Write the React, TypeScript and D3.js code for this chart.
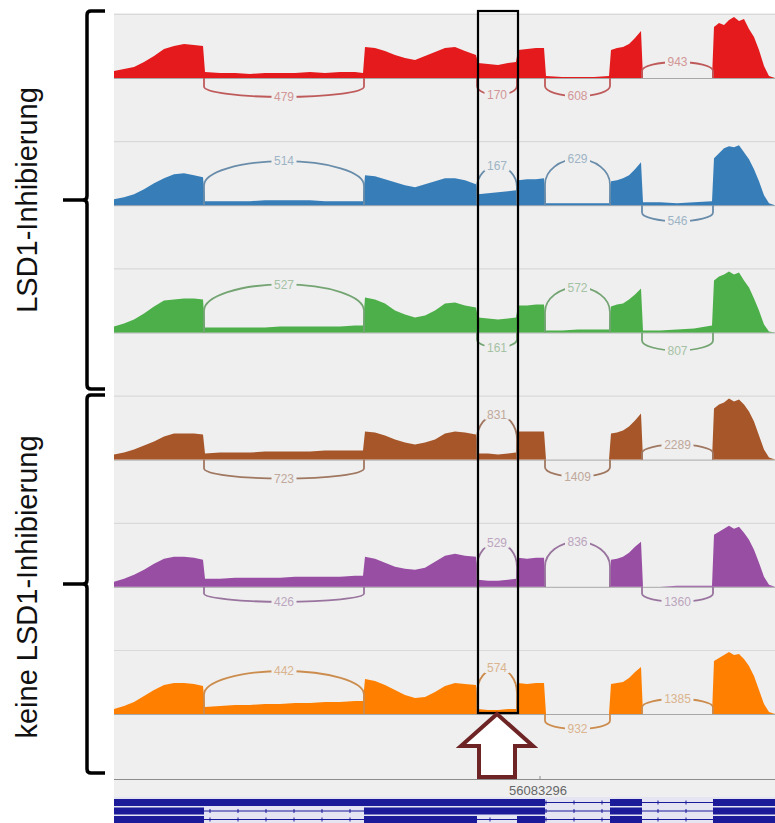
import React from 'react';
import * as d3 from 'd3';

// ---------- DATA ----------
const REGION_START = 56081166;
const REGION_END = 56084471;
const AXIS_TICKS = [56083296];

// sample positions (bp offset from REGION_START)
const samplePositions = [
  0, 50, 100, 150, 200, 250, 300, 350, 400, 445,
  455, 530, 605, 680, 755, 830, 905, 980, 1055, 1130, 1205, 1245,
  1255, 1305, 1355, 1405, 1455, 1505, 1555, 1605, 1655, 1705, 1755, 1810,
  1820, 1870, 1920, 1970, 2010,
  2020, 2065, 2110, 2150,
  2160, 2240, 2320, 2400, 2475,
  2485, 2515, 2545, 2575, 2605, 2635,
  2645, 2730, 2815, 2900, 2990,
  3000, 3025, 3050, 3075, 3100, 3125, 3150, 3175, 3200, 3225, 3250, 3275,
  3305,
];

const redCoverage = [
  7, 9, 11, 16, 22, 29, 32, 34, 33, 32,
  6, 5, 5, 4, 5, 5, 5, 6, 5, 6, 6, 5,
  31, 30, 27, 23, 20, 18, 22, 26, 30, 31, 27, 23,
  15, 14, 13, 15, 16,
  28, 29, 30, 30,
  2, 1, 1, 1, 2,
  28, 30, 31, 34, 40, 47,
  0, 0, 0, 0, 0,
  51, 55, 53, 58, 61, 57, 59, 49, 41, 28, 12, 2,
  0,
];
const blueCoverage = [
  6, 8, 11, 16, 22, 27, 31, 32, 30, 28,
  4, 4, 4, 4, 5, 5, 5, 5, 4, 4, 4, 4,
  30, 29, 26, 23, 20, 18, 21, 24, 27, 27, 25, 21,
  11, 12, 13, 14, 15,
  25, 26, 26, 27,
  2, 2, 2, 2, 2,
  24, 25, 27, 30, 36, 43,
  3, 3, 2, 3, 4,
  47, 52, 57, 59, 58, 60, 53, 46, 36, 24, 10, 2,
  0,
];
const greenCoverage = [
  6, 9, 13, 19, 26, 32, 33, 34, 34, 33,
  5, 5, 5, 5, 5, 6, 6, 6, 6, 6, 7, 7,
  35, 33, 29, 22, 18, 15, 17, 22, 29, 30, 27, 25,
  15, 14, 13, 14, 15,
  27, 27, 28, 28,
  2, 2, 3, 3, 3,
  26, 28, 29, 33, 38, 44,
  2, 2, 3, 4, 7,
  52, 56, 58, 61, 58, 60, 52, 45, 34, 22, 8, 1,
  0,
];
const brownCoverage = [
  5, 7, 10, 14, 18, 23, 26, 26, 26, 25,
  6, 7, 7, 7, 8, 8, 8, 8, 9, 9, 9, 9,
  28, 27, 24, 20, 17, 15, 17, 20, 26, 28, 27, 25,
  6, 6, 5, 6, 7,
  28, 28, 28, 28,
  0, 0, 0, 0, 0,
  26, 27, 29, 33, 39, 46,
  0, 0, 0, 0, 0,
  51, 55, 57, 61, 58, 60, 55, 48, 38, 24, 10, 2,
  0,
];
const purpleCoverage = [
  5, 8, 12, 17, 23, 28, 30, 30, 29, 27,
  8, 8, 9, 9, 9, 9, 10, 10, 10, 10, 11, 11,
  30, 28, 24, 20, 18, 17, 19, 25, 31, 33, 31, 30,
  7, 6, 6, 7, 8,
  29, 28, 29, 29,
  0, 0, 0, 0, 0,
  27, 28, 30, 34, 40, 45,
  0, 0, 1, 1, 1,
  52, 55, 58, 61, 58, 60, 54, 47, 37, 24, 10, 2,
  0,
];
const orangeCoverage = [
  5, 8, 12, 18, 24, 29, 31, 31, 30, 28,
  7, 8, 9, 9, 10, 10, 11, 11, 12, 12, 13, 13,
  35, 33, 29, 24, 19, 16, 17, 22, 28, 31, 30, 29,
  5, 4, 4, 5, 5,
  31, 30, 31, 31,
  0, 0, 0, 0, 0,
  30, 31, 32, 36, 42, 47,
  0, 0, 0, 0, 0,
  53, 56, 59, 62, 59, 60, 55, 48, 38, 24, 10, 2,
  0,
];

const trackColors = ['#e41a1c', '#377eb8', '#4daf4a', '#a65628', '#984ea3', '#ff7f00'];

// splice junctions (bp offsets)
const junctionStarts = [450, 1815, 2155, 2640];
const junctionEnds = [1250, 2015, 2480, 2995];
const redJunctions = [479, 170, 608, 943];
const blueJunctions = [514, 167, 629, 546];
const greenJunctions = [527, 161, 572, 807];
const brownJunctions = [723, 831, 1409, 2289];
const purpleJunctions = [426, 529, 836, 1360];
const orangeJunctions = [442, 574, 932, 1385];

// arc lift in px (positive = above, negative = below) – layout
const redArcLift = [-19, -17, -18, 16];
const blueArcLift = [44, 39, 46, -16];
const greenArcLift = [48, -15, 45, -18];
const brownArcLift = [-19, 45, -17, 15];
const purpleArcLift = [-15, 44, 45, -15];
const orangeArcLift = [43, 46, -15, 15];

const groupLabels = ['LSD1-Inhibierung', 'keine LSD1-Inhibierung'];

// transcripts in gene track (bp offsets)
const transcriptExons = [
  [[0, 2155], [2480, 2640], [2995, 3305]],
  [[0, 450], [1250, 2155], [2480, 2640], [2995, 3305]],
  [[0, 450], [1250, 1815], [2015, 2155], [2480, 2640], [2995, 3305]],
];

// ---------- CHART ----------
const coverages = [redCoverage, blueCoverage, greenCoverage, brownCoverage, purpleCoverage, orangeCoverage];
const junctionCounts = [redJunctions, blueJunctions, greenJunctions, brownJunctions, purpleJunctions, orangeJunctions];
const arcLifts = [redArcLift, blueArcLift, greenArcLift, brownArcLift, purpleArcLift, orangeArcLift];

const FONT = '"Liberation Sans", Arial, Helvetica, sans-serif';

export default function App() {
  const W = 775;
  const H = 823;
  const left = 114;
  const right = 775;
  const panelTop = 13;
  const firstTrackTop = 14;
  const trackStep = 127.2;
  const baselineOffset = 64;
  const axisY = 779;
  const geneTop = 797;
  const bg = '#efefef';

  const x = d3.scaleLinear().domain([REGION_START, REGION_END]).range([left, right]);
  const gx = (off: number) => x(REGION_START + off);

  const tracks = coverages.map((cov, i) => {
    const top = firstTrackTop + i * trackStep;
    const base = top + baselineOffset;
    const y = d3.scaleLinear().domain([0, 65]).range([base, base - 65]);
    const area = d3
      .area<number>()
      .x((_, j) => gx(samplePositions[j]))
      .y0(base)
      .y1((d) => y(d))
      .curve(d3.curveLinear);
    const color = trackColors[i];
    const arcColor = d3.interpolateRgb(color, '#999999')(0.5);
    const labelColor = d3.interpolateRgb(arcColor, bg)(0.4);
    const arcs = junctionStarts.map((s, k) => {
      const x1 = gx(s);
      const x2 = gx(junctionEnds[k]);
      const lift = arcLifts[i][k];
      const dir = lift > 0 ? -1 : 1;
      const h = Math.abs(lift);
      const h0 = h * 0.45;
      const ry = h - h0;
      const rx = (x2 - x1) / 2;
      const yStart = base + dir * h0;
      const sweep = lift > 0 ? 1 : 0;
      const path = `M${x1},${base} L${x1},${yStart} A${rx},${ry} 0 0,${sweep} ${x2},${yStart} L${x2},${base}`;
      const label = String(junctionCounts[i][k]);
      return { path, label, cx: (x1 + x2) / 2, cy: base + dir * h };
    });
    return { top, base, path: area(cov) || '', color, arcColor, labelColor, arcs };
  });

  const bracket = (yTop: number, yMid: number, yBot: number) =>
    `M105,${yTop} L91,${yTop} Q87,${yTop} 87,${yTop + 4} L87,${yMid - 4} Q87,${yMid} 83,${yMid} L63,${yMid} ` +
    `M83,${yMid} Q87,${yMid} 87,${yMid + 4} L87,${yBot - 4} Q87,${yBot} 91,${yBot} L105,${yBot}`;

  const rowCenters = [802.5, 811, 819.5];

  return (
    <svg
      width={W}
      height={H}
      style={{ position: 'absolute', left: 0, top: 0, background: '#ffffff' }}
      fontFamily={FONT}
    >
      {/* panel background */}
      <rect x={left} y={panelTop} width={right - left} height={geneTop - panelTop} fill={bg} />

      {tracks.map((t, i) => (
        <g key={'t' + i}>
          <line x1={left} x2={right} y1={t.top + 0.5} y2={t.top + 0.5} stroke="#d9d9d9" strokeWidth={1.2} />
          <line x1={left} x2={right} y1={t.base + 0.5} y2={t.base + 0.5} stroke="#a8a8a8" strokeWidth={1} />
          <path d={t.path} fill={t.color} />
          {t.arcs.map((a, k) => (
            <g key={'a' + k}>
              <path d={a.path} fill="none" stroke={t.arcColor} strokeWidth={1.8} />
              <rect
                x={a.cx - a.label.length * 3.5 - 2}
                y={a.cy - 5}
                width={a.label.length * 7 + 4}
                height={10}
                fill={bg}
              />
              <text
                x={a.cx}
                y={a.cy}
                dy="0.35em"
                textAnchor="middle"
                fontSize={12}
                fill={t.labelColor}
              >
                {a.label}
              </text>
            </g>
          ))}
        </g>
      ))}

      {/* axis */}
      <line x1={left} x2={right} y1={axisY + 0.5} y2={axisY + 0.5} stroke="#8c8c8c" strokeWidth={1} />
      {AXIS_TICKS.map((tk) => (
        <g key={tk}>
          <line x1={x(tk)} x2={x(tk)} y1={axisY - 3} y2={axisY} stroke="#8c8c8c" />
          <text x={x(tk) - 2} y={axisY + 16} textAnchor="middle" fontSize={13} fill="#666">
            {tk}
          </text>
        </g>
      ))}

      {/* gene track */}
      <rect x={left} y={geneTop} width={right - left} height={H - geneTop} fill="#e4e4f2" />
      {transcriptExons.map((exs, r) => (
        <g key={'g' + r}>
          <line x1={left} x2={right} y1={rowCenters[r]} y2={rowCenters[r]} stroke="#1b1b9a" strokeWidth={1} />
          {d3.range(left + 12, right, 28).map((tx) => (
            <line key={tx} x1={tx} x2={tx} y1={rowCenters[r] - 2} y2={rowCenters[r] + 2} stroke="#1b1b9a" strokeWidth={1} />
          ))}
          {exs.map((e, k) => (
            <rect
              key={k}
              x={gx(e[0])}
              y={rowCenters[r] - 3.5}
              width={gx(e[1]) - gx(e[0])}
              height={7}
              fill="#1b1b9a"
            />
          ))}
        </g>
      ))}

      {/* highlight box */}
      <rect
        x={gx(junctionStarts[1]) + 1}
        y={11}
        width={gx(junctionEnds[1]) - gx(junctionStarts[1])}
        height={702}
        fill="none"
        stroke="#000"
        strokeWidth={2.2}
      />

      {/* arrow */}
      <path
        d="M497,714 L533,746 L515,746 L515,777 L479,777 L479,746 L461,746 Z"
        fill="#ffffff"
        stroke="#6e2424"
        strokeWidth={4}
        strokeLinejoin="miter"
      />

      {/* brackets */}
      <path d={bracket(11, 200, 389)} fill="none" stroke="#000" strokeWidth={3.5} />
      <path d={bracket(395, 584, 773)} fill="none" stroke="#000" strokeWidth={3.5} />

      <text transform="translate(37,200) rotate(-90)" textAnchor="middle" fontSize={29} fill="#111">
        {groupLabels[0]}
      </text>
      <text transform="translate(37,587) rotate(-90)" textAnchor="middle" fontSize={29} fill="#111">
        {groupLabels[1]}
      </text>
    </svg>
  );
}
